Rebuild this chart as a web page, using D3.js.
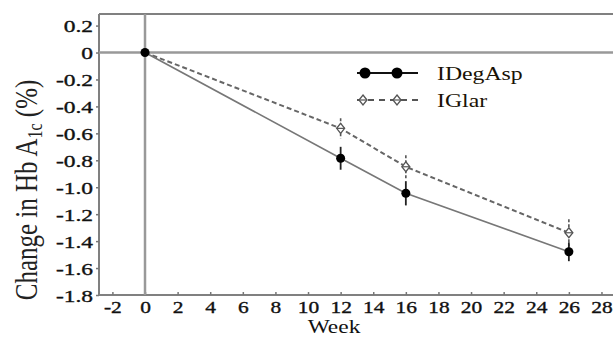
<!DOCTYPE html>
<html><head><meta charset="utf-8">
<script src="https://cdn.jsdelivr.net/npm/d3@7"></script>
<style>body{margin:0;background:#fff}svg{display:block}</style>
</head><body>
<svg id="c" width="613" height="343"></svg>
<script>
const weeks = [0, 12, 16, 26];
const idegasp = [0, -0.785, -1.045, -1.479];
const iglar = [0, -0.563, -0.848, -1.338];
const idegaspErr = [0, 0.085, 0.09, 0.07];
const iglarErr = [0, 0.075, 0.085, 0.1];
const xTicks = [-2,0,2,4,6,8,10,12,14,16,18,20,22,24,26,28];
const xTickLabels = ["-2","0","2","4","6","8","10","12","14","16","18","20","22","24","26","28"];
const yTicks = [0.2,0,-0.2,-0.4,-0.6,-0.8,-1.0,-1.2,-1.4,-1.6,-1.8];
const yTickLabels = ["0.2","0","-0.2","-0.4","-0.6","-0.8","-1.0","-1.2","-1.4","-1.6","-1.8"];
const seriesNames = ["IDegAsp", "IGlar"];

const svg = d3.select("#c");
const L = 99, T = 14, B = 295;
const x = d3.scaleLinear().domain([-2.822, 29.75]).range([L, 630]);
const y = d3.scaleLinear().domain([-1.8, 0.286]).range([B, T]);
const SX = 1.38;
const font = "'Liberation Serif','Times New Roman',serif";

// frame
svg.append("line").attr("x1", L).attr("x2", 613).attr("y1", T).attr("y2", T).attr("stroke", "#808080").attr("stroke-width", 2);
svg.append("line").attr("x1", L).attr("x2", L).attr("y1", T).attr("y2", B).attr("stroke", "#808080").attr("stroke-width", 2);

// x axis
const xa = svg.append("g").attr("transform", `translate(0,${B})`)
  .call(d3.axisBottom(x).tickValues(xTicks).tickSize(-3).tickSizeOuter(0).tickFormat((d, i) => xTickLabels[i]));
xa.select(".domain").attr("stroke", "#808080").attr("stroke-width", 2).attr("d", `M${L},0H613`);
xa.selectAll(".tick line").attr("stroke", "#777").attr("stroke-width", 1.5);
xa.selectAll(".tick text").attr("y", 18.5).attr("dy", 0).attr("font-family", font).attr("font-size", 16.5)
  .attr("fill", "#111").attr("stroke", "#111").attr("stroke-width", 0.35).attr("transform", `scale(1.3,1)`);

// y axis
const ya = svg.append("g").attr("transform", `translate(${L},0)`)
  .call(d3.axisLeft(y).tickValues(yTicks).tickSize(3).tickSizeOuter(0).tickFormat((d, i) => yTickLabels[i]));
ya.select(".domain").remove();
ya.selectAll(".tick line").attr("stroke", "#777").attr("stroke-width", 1.5);
ya.selectAll(".tick text").attr("x", -6 / SX).attr("dy", "0.36em").attr("font-family", font).attr("font-size", 17)
  .attr("fill", "#111").attr("stroke", "#111").attr("stroke-width", 0.35).attr("transform", `scale(${SX},1)`);

// zero lines
svg.append("line").attr("x1", L).attr("x2", 613).attr("y1", y(0)).attr("y2", y(0)).attr("stroke", "#999").attr("stroke-width", 2.5);
svg.append("line").attr("x1", x(0)).attr("x2", x(0)).attr("y1", T).attr("y2", B).attr("stroke", "#999").attr("stroke-width", 2.5);

// axis titles
svg.append("text").attr("transform", `translate(334,333) scale(1.3,1)`).attr("text-anchor", "middle")
  .attr("font-family", font).attr("font-size", 18).attr("fill", "#111").text("Week");
const yl = svg.append("text").attr("transform", `translate(37,190) scale(1.3,1) rotate(-90)`).attr("text-anchor", "middle")
  .attr("font-family", font).attr("font-size", 25).attr("fill", "#222");
yl.append("tspan").text("Change in Hb A");
yl.append("tspan").attr("font-size", 16).attr("dy", 4).text("1c");
yl.append("tspan").attr("dy", -4).text(" (%)");

// lines
const line = (vals) => d3.line().x((d, i) => x(weeks[i])).y(d => y(d))(vals);
svg.append("path").attr("d", line(iglar)).attr("fill", "none").attr("stroke", "#666").attr("stroke-width", 2).attr("stroke-dasharray", "5,3");
svg.append("path").attr("d", line(idegasp)).attr("fill", "none").attr("stroke", "#777").attr("stroke-width", 1.6);

// error bars
weeks.forEach((w, i) => {
  if (iglarErr[i] > 0) {
    svg.append("line").attr("x1", x(w)).attr("x2", x(w)).attr("y1", y(iglar[i] + iglarErr[i])).attr("y2", y(iglar[i] - iglarErr[i]))
      .attr("stroke", "#555").attr("stroke-width", 1.6).attr("stroke-dasharray", "3,2");
  }
  if (idegaspErr[i] > 0) {
    svg.append("line").attr("x1", x(w)).attr("x2", x(w)).attr("y1", y(idegasp[i] + idegaspErr[i])).attr("y2", y(idegasp[i] - idegaspErr[i]))
      .attr("stroke", "#222").attr("stroke-width", 1.8);
  }
});

// markers
function diamond(g, cx, cy) {
  g.append("path").attr("d", `M${cx},${cy-5}L${cx+4},${cy}L${cx},${cy+5}L${cx-4},${cy}Z`).attr("fill", "#fff").attr("stroke", "#555").attr("stroke-width", 1.3);
  g.append("line").attr("x1", cx-4).attr("x2", cx+4).attr("y1", cy).attr("y2", cy).attr("stroke", "#555").attr("stroke-width", 1.2);
}
weeks.forEach((w, i) => { if (i > 0) diamond(svg, x(w), y(iglar[i])); });
svg.selectAll("circle.p").data(idegasp).enter().append("circle").attr("class", "p")
  .attr("cx", (d, i) => x(weeks[i])).attr("cy", d => y(d)).attr("r", 4.5).attr("fill", "#000");

// legend
const lg = svg.append("g");
lg.append("line").attr("x1", 357).attr("x2", 418).attr("y1", 73).attr("y2", 73).attr("stroke", "#111").attr("stroke-width", 2);
[365, 397].forEach(cx => lg.append("circle").attr("cx", cx).attr("cy", 73).attr("r", 5.5).attr("fill", "#000"));
lg.append("line").attr("x1", 357).attr("x2", 418).attr("y1", 100).attr("y2", 100).attr("stroke", "#555").attr("stroke-width", 2).attr("stroke-dasharray", "6,5");
[363, 397].forEach(cx => diamond(lg, cx, 100));
lg.append("text").attr("transform", `translate(437,80) scale(1.25,1)`).attr("font-family", font).attr("font-size", 19).attr("fill", "#1a1205").text(seriesNames[0]);
lg.append("text").attr("transform", `translate(437,107) scale(1.25,1)`).attr("font-family", font).attr("font-size", 19).attr("fill", "#1a1205").text(seriesNames[1]);
</script>
</body></html>
